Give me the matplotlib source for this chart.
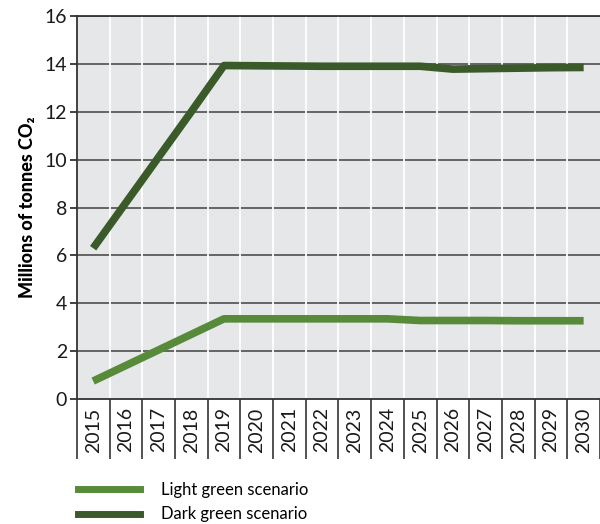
import numpy as np
from matplotlib import pyplot as plt
from matplotlib.lines import Line2D

years = [str(y) for y in range(2015, 2031)]
light_green = [0.75, 1.4, 2.05, 2.7, 3.35, 3.35, 3.35, 3.35, 3.35, 3.35,
               3.28, 3.28, 3.28, 3.27, 3.27, 3.27]
dark_green = [6.3, 8.2, 10.1, 12.0, 13.93, 13.92, 13.91, 13.9, 13.9, 13.9,
              13.9, 13.78, 13.8, 13.82, 13.84, 13.85]
y_ticks = [0, 2, 4, 6, 8, 10, 12, 14, 16]

LIGHT = '#578b3a'
DARK = '#3b5a29'
plt.rcParams['font.family'] = ['Lato', 'DejaVu Sans']

fig = plt.figure(figsize=(6, 5.24), dpi=100)
ax = fig.add_axes([0.128, 0.2385, 0.872, 0.731])
ax.set_facecolor('#e6e7e8')

x = np.arange(len(years)) + 0.5
ax.plot(x, light_green, color=LIGHT, lw=5.5, solid_capstyle='butt', zorder=3)
ax.plot(x, dark_green, color=DARK, lw=5.5, solid_capstyle='butt', zorder=3)

ax.set_xlim(0, len(years))
ax.set_ylim(0, 16)

# horizontal grid
ax.set_yticks(y_ticks)
ax.set_yticklabels([str(v) for v in y_ticks], fontsize=14, color='#1a1a1a')
for v in y_ticks[1:]:
    ax.axhline(v, color='#5a5a5a', lw=1.3, zorder=1)
ax.tick_params(axis='y', length=5, width=1.3, color='#333333', pad=2)

# vertical white grid at category boundaries
for b in range(1, len(years)):
    ax.axvline(b, color='white', lw=1.3, zorder=1)

# x ticks as cell separators, labels in between
ax.set_xticks(np.arange(len(years) + 1))
ax.set_xticklabels([])
ax.set_xticks(x, minor=True)
ax.set_xticklabels(years, minor=True, rotation=90, fontsize=14, color='#1a1a1a')
ax.tick_params(axis='x', which='major', length=43, width=1.2, color='#333333')
ax.tick_params(axis='x', which='minor', length=0, pad=6)

ax.spines['right'].set_visible(False)
for s in ['top', 'left', 'bottom']:
    ax.spines[s].set_color('#333333')
    ax.spines[s].set_linewidth(1.3)

ax.set_ylabel('Millions of tonnes CO\u2082', fontsize=13, fontweight='black', labelpad=6)

handles = [Line2D([0], [0], color=LIGHT, lw=5),
           Line2D([0], [0], color=DARK, lw=5)]
fig.legend(handles, ['Light green scenario', 'Dark green scenario'],
           loc='upper left', bbox_to_anchor=(0.13, 0.08), frameon=False,
           fontsize=12, handlelength=3.7, handletextpad=1.3, labelspacing=0.5,
           borderaxespad=0, borderpad=0)

fig.savefig('out.png', dpi=100)
